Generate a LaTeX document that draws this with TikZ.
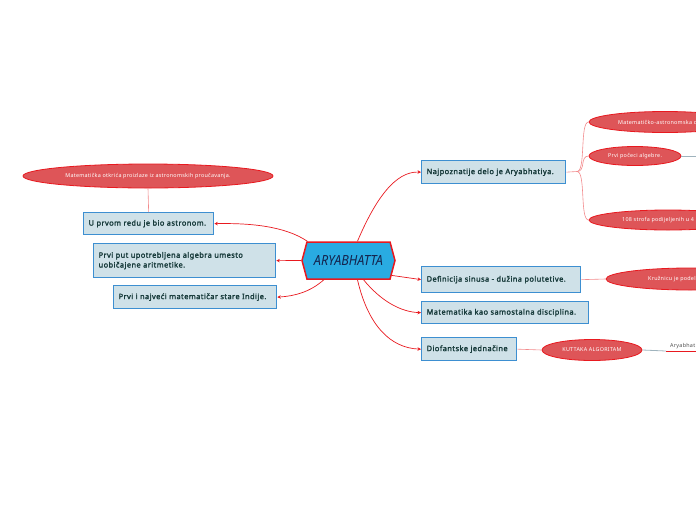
\documentclass[tikz,border=0pt]{standalone}
\usepackage{fontspec}
\setmainfont{Noto Sans}
\newfontfamily\topicfont{Noto Sans}[AutoFakeBold=2.2, LetterSpace=6]
\newfontfamily\ideafont{Noto Sans}[LetterSpace=5]
\newfontfamily\hubfont{Noto Sans}[AutoFakeBold=3]
\usetikzlibrary{shapes.symbols,shapes.geometric,arrows.meta}
\definecolor{boxfill}{HTML}{CFE1E8}
\definecolor{boxdraw}{HTML}{3D8FD1}
\definecolor{boxtext}{HTML}{173B3B}
\definecolor{hubfill}{HTML}{29ABE2}
\definecolor{linkred}{HTML}{E8191F}
\definecolor{ellfill}{HTML}{DE5558}
\definecolor{pinkline}{HTML}{F28A8C}
\definecolor{grayline}{HTML}{9FB3BD}
\definecolor{navytext}{HTML}{14254F}
\tikzset{
  topic/.style={draw=boxdraw, line width=1.3pt, fill=boxfill, text=boxtext,
    font=\topicfont\fontsize{7.4}{9.8}\selectfont\bfseries, anchor=north west,
    inner xsep=5pt, inner ysep=0pt, align=left},
  idea/.style={ellipse, fill=ellfill, draw=linkred, line width=0.8pt, text=white,
    font=\ideafont\fontsize{5.4}{6.5}\selectfont, inner sep=0pt},
  ideatext/.style={text=white, font=\ideafont\fontsize{5.4}{6.5}\selectfont, inner sep=0pt, anchor=west},
  hublink/.style={draw=linkred, line width=0.7pt, -{Stealth[length=3.5pt,width=3.5pt]}},
  sublink/.style={draw=pinkline, line width=0.6pt},
  graylink/.style={draw=grayline, line width=0.8pt}
}
\begin{document}
\begin{tikzpicture}[x=1pt,y=-1pt]
\useasboundingbox (0,0) rectangle (696,520);
\clip (0,0) rectangle (696,520);

% central topic
\node[signal, signal to=west and east, signal pointer angle=150,
      minimum width=93pt, minimum height=37pt, inner sep=0pt,
      fill=hubfill, draw=linkred, line width=1.5pt] (c) at (348.5,260.5)
      {\color{navytext}\resizebox{69pt}{10pt}{\hubfont\bfseries\itshape ARYABHATTA}};

% left topics
\node[topic, text width=120pt, minimum height=22pt] (b1) at (83,212) {U prvom redu je bio astronom.};
\node[topic, text width=172pt, minimum height=34pt] (b2) at (93,243) {Prvi put upotrebljena algebra umesto\\uobičajene aritmetike.};
\node[topic, text width=153pt, minimum height=23pt] (b3) at (113,285) {Prvi i najveći matematičar stare Indije.};

% right topics
\node[topic, text width=134pt, minimum height=23pt] (b4) at (421,160) {Najpoznatije delo je Aryabhatiya.};
\node[topic, text width=149pt, minimum height=26pt] (b5) at (421,266) {Definicija sinusa - dužina polutetive.};
\node[topic, text width=157pt, minimum height=22pt] (b6) at (421,301) {Matematika kao samostalna disciplina.};
\node[topic, text width=85pt, minimum height=23pt] (b7) at (421,337) {Diofantske jednačine};

% ideas
\node[idea, minimum width=250pt, minimum height=24pt] (e0) at (148,176) {Matematička otkrića proizlaze iz astronomskih proučavanja.};
\node[idea, minimum width=152pt, minimum height=21pt] (e1) at (665,122) {};
\node[ideatext] (e1t) at (618,122) {Matematičko-astronomska d};
\node[idea, minimum width=92pt, minimum height=19pt] (e2) at (635,156) {Prvi počeci algebre.};
\node[idea, minimum width=158pt, minimum height=20pt] (e3) at (668,220) {};
\node[ideatext] (e3t) at (622,220) {108 strofa podijeljenih u 4};
\node[idea, minimum width=168pt, minimum height=22pt] (e5) at (690,279) {};
\node[ideatext] (e5t) at (648,279) {Kružnicu je podel};
\node[idea, minimum width=100pt, minimum height=21pt] (e7) at (592,350) {KUTTAKA ALGORITAM};

% floating label
\node[anchor=south west, inner sep=1pt, text=black!70, font=\ideafont\fontsize{5.4}{6.5}\selectfont] (fl) at (669,350) {Aryabhat};
\coordinate (flL) at (666,351);
\coordinate (flR) at (696,351);
\draw[draw=linkred, line width=1pt] (flL) -- (flR);

% hub links
\draw[hublink] (c.155) .. controls (285,226) and (250,223) .. (b1.east);
\draw[hublink] (c.west) -- (b2.east);
\draw[hublink] (c.218) .. controls (310,292) and (295,296) .. (b3.east);
\draw[hublink] (c.65) .. controls (375,200) and (395,171) .. (b4.west);
\draw[hublink] (c.341) .. controls (405,277) .. (b5.west);
\draw[hublink] (c.308) .. controls (380,300) and (400,312) .. (b6.west);
\draw[hublink] (c.295) .. controls (368,325) and (390,348) .. (b7.west);

% sub links
\draw[sublink] (e0.south) -- (b1.north);
\coordinate (br) at (577,171.5);
\draw[sublink] (b4.east) -- (br);
\draw[sublink] (br) .. controls +(9,0) and +(-9,0) .. (e1.west);
\draw[sublink] (br) .. controls +(9,0) and +(-9,0) .. (e2.west);
\draw[sublink] (br) .. controls +(9,0) and +(-9,0) .. (e3.west);
\draw[sublink] (b5.east) -- (e5.west);
\draw[sublink] (b7.east) -- (e7.west);
\coordinate (e2end) at (696,156);
\draw[graylink] (e2.east) -- (e2end);
\draw[graylink] (e7.east) -- (flL);
\end{tikzpicture}
\end{document}
